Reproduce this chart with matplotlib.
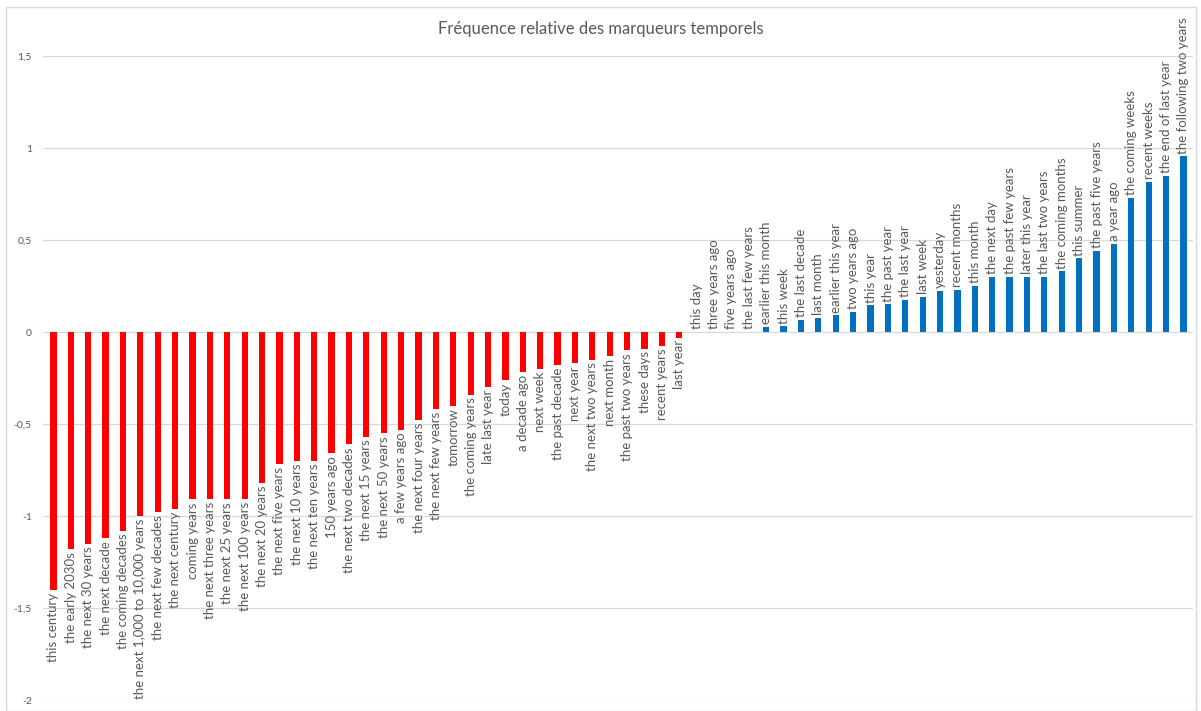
import matplotlib
matplotlib.use("Agg")
import matplotlib.pyplot as plt
from matplotlib.patches import Rectangle

categories = [
    "this century", "the early 2030s", "the next 30 years", "the next decade",
    "the coming decades", "the next 1,000 to 10,000 years", "the next few decades",
    "the next century", "coming years", "the next three years", "the next 25 years",
    "the next 100 years", "the next 20 years", "the next five years", "the next 10 years",
    "the next ten years", "150 years ago", "the next two decades", "the next 15 years",
    "the next 50 years", "a few years ago", "the next four years", "the next few years",
    "tomorrow", "the coming years", "late last year", "today", "a decade ago",
    "next week", "the past decade", "next year", "the next two years", "next month",
    "the past two years", "these days", "recent years", "last year",
    "this day", "three years ago", "five years ago", "the last few years",
    "earlier this month", "this week", "the last decade", "last month",
    "earlier this year", "two years ago", "this year", "the past year", "the last year",
    "last week", "yesterday", "recent months", "this month", "the next day",
    "the past few years", "later this year", "the last two years", "the coming months",
    "this summer", "the past five years", "a year ago", "the coming weeks",
    "recent weeks", "the end of last year", "the following two years",
]

values = [
    -1.40, -1.18, -1.15, -1.12, -1.08, -1.00, -0.98, -0.96, -0.91, -0.91, -0.91,
    -0.91, -0.82, -0.72, -0.70, -0.70, -0.66, -0.61, -0.57, -0.55, -0.53, -0.48,
    -0.42, -0.40, -0.34, -0.30, -0.26, -0.22, -0.20, -0.18, -0.17, -0.15, -0.13,
    -0.10, -0.09, -0.075, -0.03,
    0.0, 0.0, 0.0, 0.0, 0.027, 0.03, 0.065, 0.078, 0.09, 0.11, 0.145, 0.15,
    0.175, 0.19, 0.225, 0.23, 0.25, 0.30, 0.30, 0.30, 0.30, 0.33, 0.40, 0.44,
    0.48, 0.73, 0.815, 0.85, 0.955,
]

yticks = [-2, -1.5, -1, -0.5, 0, 0.5, 1, 1.5]
ytick_labels = ["-2", "-1,5", "-1", "-0,5", "0", "0,5", "1", "1,5"]
title = "Fréquence relative des marqueurs temporels"

RED = "#FF0000"
BLUE = "#0070C0"
GRAY_TXT = "#595959"
GRID = "#D9D9D9"
FONT = ["Lato", "DejaVu Sans"]

fig = plt.figure(figsize=(12.01, 7.11), dpi=100)
fig.patch.set_facecolor("white")
fig.patches.append(Rectangle((6 / 1201, 0), 1190 / 1201, 1 - 7 / 711,
                             transform=fig.transFigure, fill=False,
                             edgecolor=GRID, linewidth=1.0))

ax = fig.add_axes([43 / 1201, 1 - 700 / 711, (1193 - 43) / 1201, (700 - 56) / 711])
x = list(range(len(categories)))
colors = [RED if v < 0 else BLUE for v in values]
ax.bar(x, values, width=0.36, color=colors, zorder=3)

ax.set_ylim(-2, 1.5)
ax.set_xlim(-0.6, len(categories) - 1 + 0.55)
ax.set_yticks(yticks)
ax.set_yticklabels(ytick_labels, fontsize=7.5, color=GRAY_TXT, family=FONT)
ax.tick_params(axis="y", length=0, pad=8)
ax.set_xticks([])
for s in ax.spines.values():
    s.set_visible(False)
ax.grid(axis="y", color=GRID, linewidth=0.9, zorder=0)

for xi, v, lab in zip(x, values, categories):
    if v < 0:
        ax.annotate(lab, (xi, v), xytext=(0, -2), textcoords="offset points",
                    rotation=90, ha="center", va="top", fontsize=9.5,
                    color=GRAY_TXT, family=FONT, annotation_clip=False)
    else:
        ax.annotate(lab, (xi, v), xytext=(0, 2), textcoords="offset points",
                    rotation=90, ha="center", va="bottom", fontsize=9.5,
                    color=GRAY_TXT, family=FONT, annotation_clip=False)

fig.text(0.5, 1 - 29 / 711, title, ha="center", va="center", fontsize=12,
         color=GRAY_TXT, family=FONT)

fig.savefig("out.png", dpi=100)
